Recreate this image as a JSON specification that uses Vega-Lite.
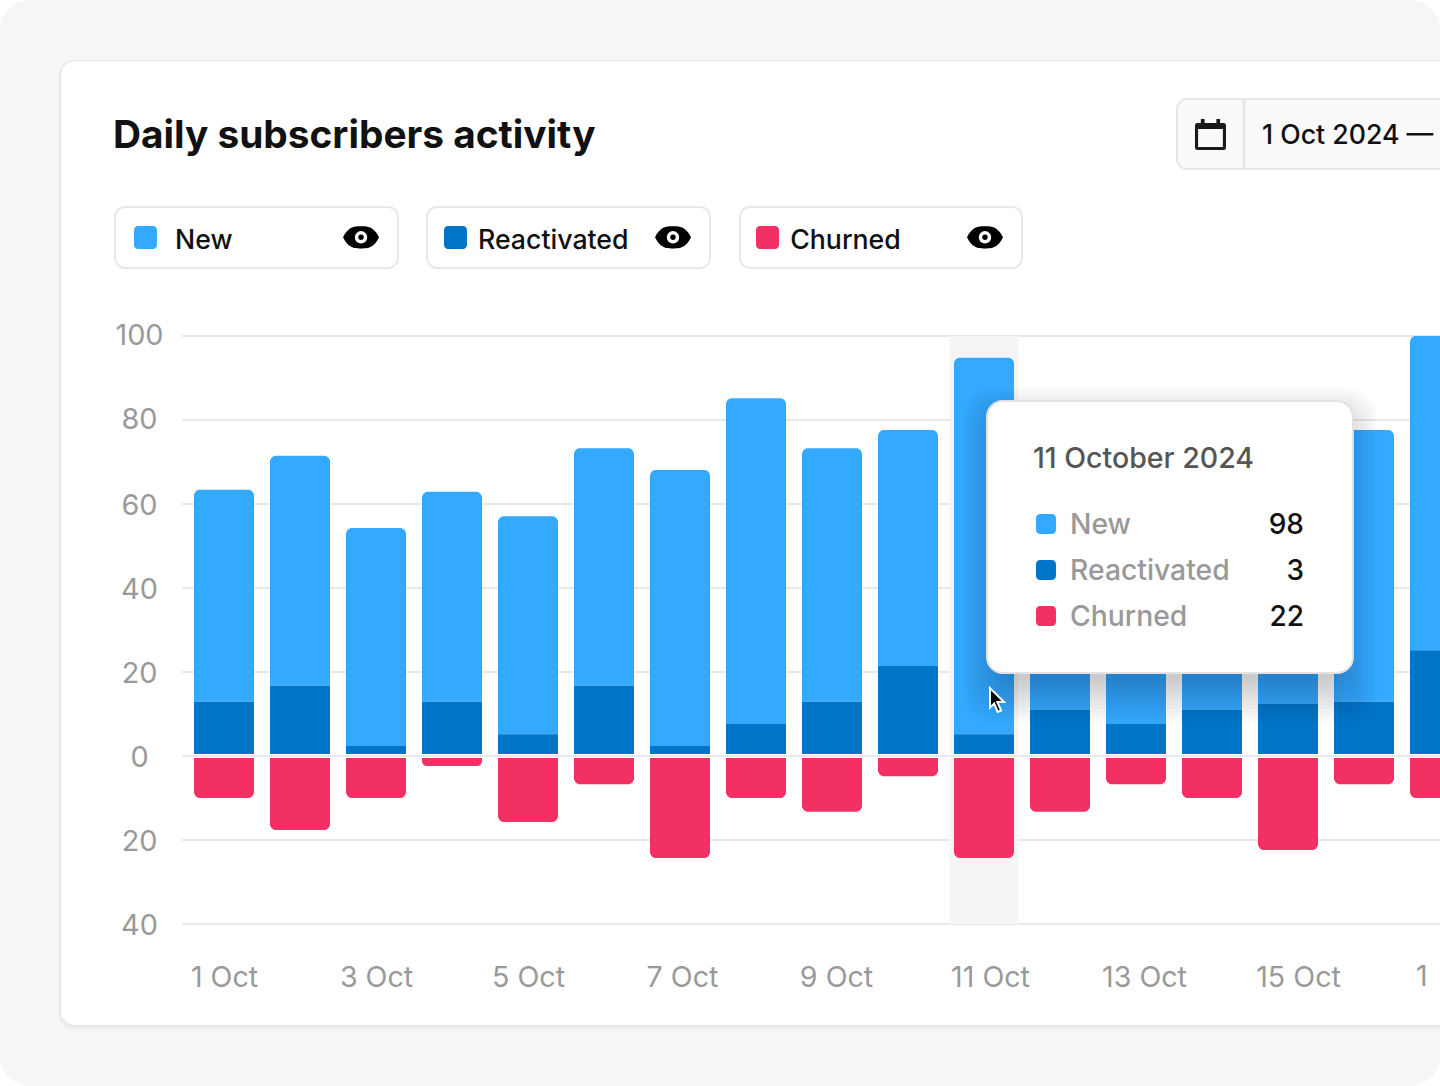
{
"$schema":"https://vega.github.io/schema/vega-lite/v6.json",
"width":1440,"height":1086,"padding":0,"autosize":{"type":"none"},"background":"#ffffff",
"config":{"view":{"stroke":null},"text":{"font":"Inter"},"axis":{"labelFont":"Inter"}},
"datasets":{
"activity":[
{"day":1,"series":"New","value":50.5},{"day":1,"series":"Reactivated","value":12.9},{"day":1,"series":"Churned","value":-10},
{"day":2,"series":"New","value":54.8},{"day":2,"series":"Reactivated","value":16.7},{"day":2,"series":"Churned","value":-17.6},
{"day":3,"series":"New","value":51.9},{"day":3,"series":"Reactivated","value":2.4},{"day":3,"series":"Churned","value":-10},
{"day":4,"series":"New","value":50},{"day":4,"series":"Reactivated","value":12.9},{"day":4,"series":"Churned","value":-2.4},
{"day":5,"series":"New","value":51.9},{"day":5,"series":"Reactivated","value":5.2},{"day":5,"series":"Churned","value":-15.7},
{"day":6,"series":"New","value":56.6},{"day":6,"series":"Reactivated","value":16.7},{"day":6,"series":"Churned","value":-6.7},
{"day":7,"series":"New","value":65.7},{"day":7,"series":"Reactivated","value":2.4},{"day":7,"series":"Churned","value":-24.3},
{"day":8,"series":"New","value":77.6},{"day":8,"series":"Reactivated","value":7.6},{"day":8,"series":"Churned","value":-10},
{"day":9,"series":"New","value":60.4},{"day":9,"series":"Reactivated","value":12.9},{"day":9,"series":"Churned","value":-13.3},
{"day":10,"series":"New","value":56.2},{"day":10,"series":"Reactivated","value":21.4},{"day":10,"series":"Churned","value":-4.8},
{"day":11,"series":"New","value":89.6},{"day":11,"series":"Reactivated","value":5.2},{"day":11,"series":"Churned","value":-24.3},
{"day":12,"series":"New","value":55},{"day":12,"series":"Reactivated","value":11},{"day":12,"series":"Churned","value":-13.3},
{"day":13,"series":"New","value":60},{"day":13,"series":"Reactivated","value":7.6},{"day":13,"series":"Churned","value":-6.7},
{"day":14,"series":"New","value":58},{"day":14,"series":"Reactivated","value":11},{"day":14,"series":"Churned","value":-10},
{"day":15,"series":"New","value":62},{"day":15,"series":"Reactivated","value":12.4},{"day":15,"series":"Churned","value":-22.4},
{"day":16,"series":"New","value":64.7},{"day":16,"series":"Reactivated","value":12.9},{"day":16,"series":"Churned","value":-6.7},
{"day":17,"series":"New","value":74.8},{"day":17,"series":"Reactivated","value":25.2},{"day":17,"series":"Churned","value":-10}
],
"grid":[{"v":100},{"v":80},{"v":60},{"v":40},{"v":20},{"v":0},{"v":-20},{"v":-40}],
"swatches":[
{"series":"New","a":-0.184,"b":0.118,"c":126.19,"d":120.714},
{"series":"Reactivated","a":3.895,"b":4.197,"c":126.19,"d":120.714},
{"series":"Churned","a":8.0,"b":8.303,"c":126.19,"d":120.714},
{"series":"New","a":11.684,"b":11.947,"c":57.619,"d":52.857},
{"series":"Reactivated","a":11.684,"b":11.947,"c":46.667,"d":41.905},
{"series":"Churned","a":11.684,"b":11.947,"c":35.714,"d":30.952}
],
"cardShadow":[
{"a":-1.158,"b":17.263,"c":165.714,"d":-64.286},
{"a":-1.171,"b":17.263,"c":165.714,"d":-64.762},
{"a":-1.184,"b":17.263,"c":165.714,"d":-65.238}
],
"tipShadow":[
{"a":10.724,"b":16.171,"c":87.619,"d":7.857},
{"a":10.763,"b":16.132,"c":86.905,"d":8.69},
{"a":10.803,"b":16.092,"c":86.19,"d":9.524},
{"a":10.842,"b":16.053,"c":85.476,"d":10.357},
{"a":10.882,"b":16.013,"c":84.762,"d":11.19},
{"a":10.921,"b":15.974,"c":84.048,"d":12.024},
{"a":10.961,"b":15.934,"c":83.333,"d":12.857},
{"a":11,"b":15.895,"c":82.619,"d":13.69},
{"a":11.039,"b":15.855,"c":81.905,"d":14.524},
{"a":11.079,"b":15.816,"c":81.19,"d":15.357},
{"a":11.118,"b":15.776,"c":80.476,"d":16.19},
{"a":11.158,"b":15.737,"c":79.762,"d":17.024},
{"a":11.197,"b":15.697,"c":79.048,"d":17.857}
],
"chips":[
{"a":-0.434,"b":3.289,"c":130.714,"d":116.19},
{"a":3.671,"b":7.395,"c":130.714,"d":116.19},
{"a":7.789,"b":11.5,"c":130.714,"d":116.19}
],
"eyes":[{"a":2.803,"c":123.5},{"a":6.908,"c":123.5},{"a":11.013,"c":123.5}],
"dark":[
{"t":"New","a":0.355,"c":120.6},{"t":"Reactivated","a":4.342,"c":120.6},{"t":"Churned","a":8.45,"c":120.6},
{"t":"1 Oct 2024 —","a":14.658,"c":145.714}
],
"tipLabels":[
{"t":"New","a":12.132,"c":52.75},{"t":"Reactivated","a":12.132,"c":41.8},{"t":"Churned","a":12.132,"c":30.85}
],
"tipValues":[
{"t":"98","a":15.21,"c":52.75},{"t":"3","a":15.21,"c":41.8},{"t":"22","a":15.21,"c":30.85}
]
},
"encoding":{
"x":{"type":"quantitative","scale":{"domain":[-1.9473684,17],"nice":false,"zero":false,"padding":0}},
"y":{"type":"quantitative","scale":{"domain":[-78.5714,180],"nice":false,"zero":false,"padding":0}}
},
"layer":[
{"data":{"values":[{"a":-1.9473684,"b":17,"c":180,"d":-78.5714}]},"mark":{"type":"rect","fill":"#f6f6f6","cornerRadius":30},
 "encoding":{"x":{"field":"a","type":"quantitative"},"x2":{"field":"b"},"y":{"field":"c","type":"quantitative"},"y2":{"field":"d"}}},
{"data":{"name":"cardShadow"},"mark":{"type":"rect","fill":"#000000","opacity":0.025,"cornerRadius":16},
 "encoding":{"x":{"field":"a","type":"quantitative"},"x2":{"field":"b"},"y":{"field":"c","type":"quantitative"},"y2":{"field":"d"}}},
{"data":{"values":[{"a":-1.145,"b":17.263,"c":165.476,"d":-64.048}]},"mark":{"type":"rect","fill":"#ffffff","cornerRadius":14},
 "encoding":{"x":{"field":"a","type":"quantitative"},"x2":{"field":"b"},"y":{"field":"c","type":"quantitative"},"y2":{"field":"d"}}},
{"data":{"values":[{"a":13.539,"b":17.263,"c":156.429,"d":139.762}]},"mark":{"type":"rect","fill":"#fafafa","stroke":"#e6e7ea","strokeWidth":2,"cornerRadius":10},
 "encoding":{"x":{"field":"a","type":"quantitative"},"x2":{"field":"b"},"y":{"field":"c","type":"quantitative"},"y2":{"field":"d"}}},
{"data":{"values":[{"a":14.421,"c":156.19,"d":140}]},"mark":{"type":"rule","stroke":"#e6e7ea","strokeWidth":3},
 "encoding":{"x":{"field":"a","type":"quantitative"},"y":{"field":"c","type":"quantitative"},"y2":{"field":"d"}}},
{"data":{"name":"chips"},"mark":{"type":"rect","fill":"#ffffff","stroke":"#e8e8e8","strokeWidth":2,"cornerRadius":10},
 "encoding":{"x":{"field":"a","type":"quantitative"},"x2":{"field":"b"},"y":{"field":"c","type":"quantitative"},"y2":{"field":"d"}}},
{"data":{"name":"grid"},"mark":{"type":"rule","stroke":"#e8e8e8","strokeWidth":2},
 "encoding":{"x":{"datum":0.447,"type":"quantitative"},"x2":{"datum":17.263},"y":{"field":"v","type":"quantitative"}}},
{"data":{"values":[{"a":10.553,"b":11.447,"c":100,"d":-40}]},"mark":{"type":"rect","fill":"#f5f5f5"},
 "encoding":{"x":{"field":"a","type":"quantitative"},"x2":{"field":"b"},"y":{"field":"c","type":"quantitative"},"y2":{"field":"d"}}},
{"data":{"name":"activity"},
 "transform":[{"stack":"value","groupby":["day"],"sort":[{"field":"series","order":"descending"}],"as":["y0","y1"]}],
 "encoding":{
  "x":{"field":"day","type":"quantitative","axis":{"values":[1,3,5,7.026,9.053,11.079,13.105,15.132],"labelExpr":"round(datum.value)+' Oct'","orient":"bottom","title":null,"domain":false,"ticks":false,"grid":false,"offset":-130,"labelPadding":30,"labelBaseline":"alphabetic","labelFontSize":28.6,"labelColor":"#999999","labelOverlap":false,"labelBound":false,"labelFlush":false,"zindex":1}},
  "y":{"field":"y1","type":"quantitative","axis":{"values":[-40,-20,0,20,40,60,80,100],"labelExpr":"abs(datum.value)","orient":"left","title":null,"domain":false,"ticks":false,"grid":false,"offset":-184,"labelPadding":45,"labelAlign":"center","labelBaseline":"middle","labelOffset":{"condition":{"test":"datum.value>=80","value":-1},"value":1},"labelFontSize":28.8,"labelColor":"#999999","labelOverlap":false,"labelBound":false,"labelFlush":false,"zindex":1}},
  "y2":{"field":"y0"},
  "color":{"field":"series","type":"nominal","scale":{"domain":["New","Reactivated","Churned"],"range":["#33a9ff","#0174c8","#f23064"]},"legend":null}
 },
 "layer":[
  {"transform":[{"filter":"datum.series==='New'"}],"mark":{"type":"bar","size":60,"cornerRadiusTopLeft":6,"cornerRadiusTopRight":6}},
  {"transform":[{"filter":"datum.series==='Reactivated'"}],"mark":{"type":"bar","size":60}},
  {"transform":[{"filter":"datum.series==='Churned'"}],"mark":{"type":"bar","size":60,"cornerRadiusBottomLeft":6,"cornerRadiusBottomRight":6}}
 ]},
{"data":{"values":[{"v":0}]},"mark":{"type":"rule","stroke":"#ffffff","strokeWidth":4},
 "encoding":{"x":{"datum":0.447,"type":"quantitative"},"x2":{"datum":17.263},"y":{"field":"v","type":"quantitative"}}},
{"data":{"values":[{"v":0}]},"mark":{"type":"rule","stroke":"#e8e8e8","strokeWidth":2},
 "encoding":{"x":{"datum":0.447,"type":"quantitative"},"x2":{"datum":17.263},"y":{"field":"v","type":"quantitative"}}},
{"data":{"name":"tipShadow"},"mark":{"type":"rect","fill":"#000000","opacity":0.015,"cornerRadius":28},
 "encoding":{"x":{"field":"a","type":"quantitative"},"x2":{"field":"b"},"y":{"field":"c","type":"quantitative"},"y2":{"field":"d"}}},
{"data":{"values":[{"a":11.039,"b":15.855,"c":84.524,"d":19.762}]},"mark":{"type":"rect","fill":"#ffffff","stroke":"#e2e2e5","strokeWidth":2,"cornerRadius":16},
 "encoding":{"x":{"field":"a","type":"quantitative"},"x2":{"field":"b"},"y":{"field":"c","type":"quantitative"},"y2":{"field":"d"}}},
{"data":{"name":"swatches"},"mark":{"type":"rect","cornerRadius":4},
 "encoding":{"x":{"field":"a","type":"quantitative"},"x2":{"field":"b"},"y":{"field":"c","type":"quantitative"},"y2":{"field":"d"},"color":{"field":"series","type":"nominal","legend":null}}},
{"data":{"values":[{"t":"Daily subscribers activity","a":-0.461,"c":144.762}]},"mark":{"type":"text","align":"left","baseline":"alphabetic","font":"Inter","fontSize":38.8,"fontWeight":700,"color":"#111111"},
 "encoding":{"x":{"field":"a","type":"quantitative"},"y":{"field":"c","type":"quantitative"},"text":{"field":"t","type":"nominal"}}},
{"data":{"name":"dark"},"mark":{"type":"text","align":"left","baseline":"alphabetic","font":"Inter","fontSize":26.7,"fontWeight":500,"color":"#111111"},
 "encoding":{"x":{"field":"a","type":"quantitative"},"y":{"field":"c","type":"quantitative"},"text":{"field":"t","type":"nominal"}}},
{"data":{"values":[{"t":"1","a":16.684,"c":-54.762}]},"mark":{"type":"text","align":"left","baseline":"alphabetic","font":"Inter","fontSize":28.6,"color":"#999999"},
 "encoding":{"x":{"field":"a","type":"quantitative"},"y":{"field":"c","type":"quantitative"},"text":{"field":"t","type":"nominal"}}},
{"data":{"values":[{"t":"11 October 2024","a":11.645,"c":68.57}]},"mark":{"type":"text","align":"left","baseline":"alphabetic","font":"Inter","fontSize":28.5,"fontWeight":500,"color":"#555555"},
 "encoding":{"x":{"field":"a","type":"quantitative"},"y":{"field":"c","type":"quantitative"},"text":{"field":"t","type":"nominal"}}},
{"data":{"name":"tipLabels"},"mark":{"type":"text","align":"left","baseline":"alphabetic","font":"Inter","fontSize":28.3,"fontWeight":500,"color":"#999999"},
 "encoding":{"x":{"field":"a","type":"quantitative"},"y":{"field":"c","type":"quantitative"},"text":{"field":"t","type":"nominal"}}},
{"data":{"name":"tipValues"},"mark":{"type":"text","align":"right","baseline":"alphabetic","font":"Inter","fontSize":28,"fontWeight":500,"color":"#111111"},
 "encoding":{"x":{"field":"a","type":"quantitative"},"y":{"field":"c","type":"quantitative"},"text":{"field":"t","type":"nominal"}}},
{"data":{"name":"eyes"},"mark":{"type":"point","filled":true,"opacity":1,"color":"#000000","size":1296,"shape":"M-1,0 C-0.7,-0.65 -0.3,-0.62 0,-0.62 C0.3,-0.62 0.7,-0.65 1,0 C0.7,0.65 0.3,0.62 0,0.62 C-0.3,0.62 -0.7,0.65 -1,0 Z"},
 "encoding":{"x":{"field":"a","type":"quantitative"},"y":{"field":"c","type":"quantitative"}}},
{"data":{"name":"eyes"},"mark":{"type":"point","filled":true,"opacity":1,"color":"#ffffff","size":154,"shape":"circle"},
 "encoding":{"x":{"field":"a","type":"quantitative"},"y":{"field":"c","type":"quantitative"}}},
{"data":{"name":"eyes"},"mark":{"type":"point","filled":true,"opacity":1,"color":"#000000","size":30,"shape":"circle"},
 "encoding":{"x":{"field":"a","type":"quantitative"},"y":{"field":"c","type":"quantitative"}}},
{"data":{"values":[{"a":13.98,"c":147.976}]},"mark":{"type":"point","filled":true,"opacity":1,"color":"#1a1a1a","size":961,"shape":"M-0.85,-0.75H0.85Q1,-0.75 1,-0.6V0.85Q1,1 0.85,1H-0.85Q-1,1 -1,0.85V-0.6Q-1,-0.75 -0.85,-0.75Z M-0.8,-0.35V0.8H0.8V-0.35Z M-0.62,-1H-0.38V-0.7H-0.62Z M0.38,-1H0.62V-0.7H0.38Z"},
 "encoding":{"x":{"field":"a","type":"quantitative"},"y":{"field":"c","type":"quantitative"}}},
{"data":{"values":[{"a":11.171,"c":13.333}]},"mark":{"type":"point","filled":true,"opacity":1,"fill":"#000000","stroke":"#ffffff","strokeWidth":2,"size":784,"shape":"M-0.5,-0.85 L0.5,0.15 L0.02,0.15 L0.3,0.75 L0.05,0.85 L-0.2,0.25 L-0.5,0.55 Z"},
 "encoding":{"x":{"field":"a","type":"quantitative"},"y":{"field":"c","type":"quantitative"}}}
]
}
